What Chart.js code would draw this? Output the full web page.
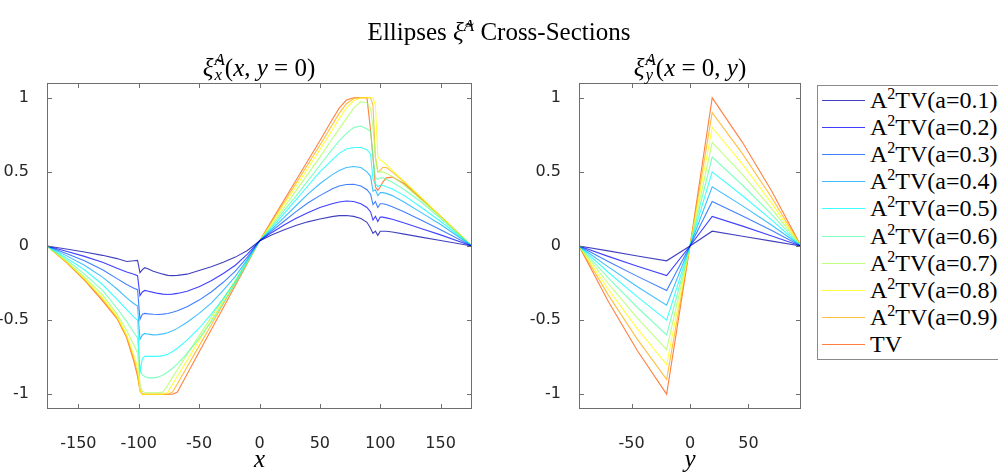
<!DOCTYPE html>
<html>
<head>
<meta charset="utf-8">
<script src="https://cdn.jsdelivr.net/npm/chart.js@4.4.1/dist/chart.umd.min.js"></script>
<style>
  html, body { margin: 0; padding: 0; background: #fff; }
  body { width: 998px; height: 476px; position: relative; overflow: hidden; }
  canvas { position: absolute; top: 0; }
  #c1 { left: 0; }
  #c2 { left: 500px; }
  .ttl { position: absolute; font-family: "Liberation Serif", serif; font-size: 25px; line-height: 25px;
         color: #000; white-space: nowrap; transform: translateX(-50%); }
  .ttl i { font-style: italic; }
  .ss { display: inline-flex; flex-direction: column; font-size: 17px; line-height: 15px;
        font-style: italic; vertical-align: 11px; margin-left: 1px; }
  #legend { position: absolute; left: 817px; top: 85px; width: 220px; height: 273px;
            border: 1px solid #8a8a8a; background: #fff; }
  .row { position: absolute; left: 0; height: 27px; width: 220px; }
  .swatch { position: absolute; left: 4px; top: 13px; width: 43px; height: 1px; }
  .lbl { position: absolute; left: 52px; top: 0; line-height: 27px; font-family: "Liberation Serif", serif;
         font-size: 24px; color: #000; white-space: nowrap; }
  .lbl sup { font-size: 16px; vertical-align: 9px; line-height: 0; }
</style>
</head>
<body>
<canvas id="c1" width="500" height="476"></canvas>
<canvas id="c2" width="498" height="476"></canvas>
<div class="ttl" style="left:499px; top:13px;">Ellipses <i>ξ̃</i><sup style="font-size:17px;font-style:italic;">A</sup> Cross-Sections</div>
<div class="ttl" style="left:259px; top:52px;"><i>ξ̃</i><span class="ss"><span>A</span><span>x</span></span>(<i>x</i>, <i>y</i> = 0)</div>
<div class="ttl" style="left:690px; top:52px;"><i>ξ̃</i><span class="ss"><span>A</span><span>y</span></span>(<i>x</i> = 0, <i>y</i>)</div>
<div id="legend"></div>
<script>
// x positions of the horizontal cross-section (left panel)
const xLeft = [-176, -160, -145, -130, -118, -110, -104, -101, -99, -97, -95, -92, -88, -84, -80, -76, -72, -68,
  -60, -50, -40, -30, -20, -10, 0, 10, 20, 30, 40, 50, 60, 66, 72, 78, 84, 89, 92, 94, 96, 98, 100, 102, 105,
  110, 120, 135, 150, 176];

const leftA01 = [0, -0.02, -0.04, -0.063, -0.085, -0.105, -0.1, -0.097, -0.18, -0.16, -0.146, -0.155, -0.17, -0.18, -0.19, -0.198, -0.2, -0.198, -0.19, -0.165, -0.14, -0.11, -0.075, -0.03,
  0.034, 0.075, 0.108, 0.138, 0.163, 0.182, 0.198, 0.205, 0.206, 0.2, 0.185, 0.16, 0.12, 0.085, 0.1, 0.072, 0.1, 0.1, 0.1, 0.094, 0.08, 0.058, 0.037, 0];
const leftA02 = [0, -0.035, -0.07, -0.11, -0.15, -0.175, -0.19, -0.2, -0.335, -0.31, -0.3, -0.305, -0.313, -0.32, -0.325, -0.327, -0.325, -0.32, -0.305, -0.275, -0.235, -0.185, -0.13, -0.055,
  0.034, 0.09, 0.14, 0.185, 0.225, 0.26, 0.285, 0.297, 0.304, 0.3, 0.285, 0.26, 0.23, 0.175, 0.2, 0.165, 0.195, 0.195, 0.19, 0.18, 0.155, 0.115, 0.075, 0];
const leftA03 = [0, -0.05, -0.1, -0.16, -0.22, -0.26, -0.285, -0.295, -0.495, -0.46, -0.455, -0.458, -0.461, -0.462, -0.46, -0.455, -0.447, -0.437, -0.41, -0.365, -0.31, -0.245, -0.17, -0.075,
  0.034, 0.1, 0.165, 0.23, 0.29, 0.34, 0.385, 0.405, 0.415, 0.417, 0.405, 0.38, 0.35, 0.28, 0.3, 0.26, 0.285, 0.285, 0.28, 0.265, 0.23, 0.17, 0.11, 0];
const leftA04 = [0, -0.065, -0.13, -0.21, -0.29, -0.35, -0.39, -0.405, -0.63, -0.6, -0.59, -0.595, -0.6, -0.598, -0.593, -0.585, -0.572, -0.556, -0.515, -0.455, -0.385, -0.3, -0.205, -0.09,
  0.034, 0.11, 0.19, 0.27, 0.35, 0.42, 0.48, 0.51, 0.53, 0.536, 0.53, 0.5, 0.47, 0.37, 0.38, 0.34, 0.36, 0.36, 0.355, 0.34, 0.295, 0.22, 0.145, 0];
const leftA05 = [0, -0.08, -0.16, -0.26, -0.36, -0.43, -0.48, -0.5, -0.85, -0.76, -0.745, -0.745, -0.745, -0.745, -0.74, -0.73, -0.712, -0.69, -0.635, -0.555, -0.46, -0.355, -0.24, -0.1,
  0.034, 0.12, 0.215, 0.31, 0.405, 0.5, 0.58, 0.625, 0.655, 0.665, 0.665, 0.65, 0.62, 0.45, 0.42, 0.4, 0.41, 0.41, 0.4, 0.385, 0.34, 0.255, 0.165, 0];
const leftA06 = [0, -0.09, -0.19, -0.3, -0.42, -0.51, -0.585, -0.62, -0.84, -0.87, -0.88, -0.89, -0.89, -0.885, -0.87, -0.85, -0.825, -0.795, -0.725, -0.625, -0.51, -0.385, -0.255, -0.11,
  0.034, 0.13, 0.235, 0.335, 0.44, 0.545, 0.65, 0.71, 0.76, 0.8, 0.81, 0.79, 0.775, 0.6, 0.46, 0.45, 0.46, 0.46, 0.45, 0.43, 0.38, 0.29, 0.185, 0];
const leftA07 = [0, -0.1, -0.21, -0.33, -0.46, -0.57, -0.67, -0.72, -0.93, -0.98, -0.99, -0.99, -0.99, -0.99, -0.985, -0.94, -0.885, -0.835, -0.73, -0.605, -0.48, -0.355, -0.23, -0.1,
  0.034, 0.14, 0.255, 0.37, 0.485, 0.6, 0.72, 0.79, 0.86, 0.93, 0.975, 0.965, 0.93, 0.8, 0.6, 0.5, 0.5, 0.5, 0.49, 0.47, 0.41, 0.305, 0.195, 0];
const leftA08 = [0, -0.105, -0.22, -0.35, -0.475, -0.6, -0.74, -0.82, -0.97, -1, -1, -1, -1, -1, -1, -0.987, -0.933, -0.879, -0.772, -0.637, -0.503, -0.369, -0.235, -0.105,
  0.034, 0.15, 0.275, 0.4, 0.525, 0.65, 0.78, 0.86, 0.93, 0.98, 1, 1, 1, 1, 0.95, 0.6, 0.58, 0.57, 0.55, 0.51, 0.434, 0.32, 0.2, 0];
const leftA09 = [0, -0.108, -0.225, -0.36, -0.485, -0.61, -0.76, -0.86, -0.98, -1, -1, -1, -1, -1, -1, -1, -0.986, -0.929, -0.816, -0.674, -0.533, -0.391, -0.249, -0.11,
  0.034, 0.16, 0.29, 0.42, 0.55, 0.68, 0.815, 0.895, 0.96, 0.995, 1, 1, 1, 0.95, 0.6, 0.5, 0.51, 0.53, 0.53, 0.5, 0.43, 0.315, 0.2, 0];
const leftTV = [0, -0.11, -0.23, -0.37, -0.49, -0.62, -0.78, -0.88, -0.97, -1, -1, -1, -1, -1, -1, -1, -1, -0.985, -0.865, -0.715, -0.565, -0.416, -0.266, -0.116,
  0.034, 0.17, 0.305, 0.44, 0.575, 0.71, 0.85, 0.93, 0.985, 1, 1, 1, 0.78, 0.6, 0.4, 0.375, 0.4, 0.43, 0.46, 0.465, 0.42, 0.31, 0.2, 0];

// y positions of the vertical cross-section (right panel)
const yRight = [-95, -70, -45, -20, 0, 19, 45, 70, 95];
const rightA01 = [0, -0.033, -0.067, -0.1, 0, 0.1, 0.066, 0.033, 0];
const rightA02 = [0, -0.07, -0.136, -0.2, 0, 0.2, 0.134, 0.068, 0];
const rightA03 = [0, -0.105, -0.205, -0.3, 0, 0.3, 0.202, 0.104, 0];
const rightA04 = [0, -0.141, -0.275, -0.4, 0, 0.4, 0.271, 0.14, 0];
const rightA05 = [0, -0.177, -0.343, -0.5, 0, 0.5, 0.339, 0.175, 0];
const rightA06 = [0, -0.215, -0.415, -0.6, 0, 0.6, 0.41, 0.212, 0];
const rightA07 = [0, -0.253, -0.487, -0.7, 0, 0.7, 0.481, 0.25, 0];
const rightA08 = [0, -0.292, -0.559, -0.8, 0, 0.8, 0.551, 0.288, 0];
const rightA09 = [0, -0.33, -0.63, -0.9, 0, 0.9, 0.622, 0.326, 0];
const rightTV = [0, -0.373, -0.707, -1, 0, 1, 0.698, 0.369, 0];

const seriesLabels = ['A²TV(a=0.1)', 'A²TV(a=0.2)', 'A²TV(a=0.3)', 'A²TV(a=0.4)', 'A²TV(a=0.5)',
  'A²TV(a=0.6)', 'A²TV(a=0.7)', 'A²TV(a=0.8)', 'A²TV(a=0.9)', 'TV'];
const seriesColors = ['rgba(0,0,170,0.75)', 'rgba(0,0,255,0.75)', 'rgba(0,85,255,0.75)', 'rgba(0,170,255,0.75)',
  'rgba(0,255,255,0.75)', 'rgba(85,255,170,0.75)', 'rgba(170,255,85,0.75)', 'rgba(255,255,0,0.75)',
  'rgba(255,170,0,0.75)', 'rgba(255,85,0,0.75)'];

const xTicksLeft = [-150, -100, -50, 0, 50, 100, 150];
const xTicksRight = [-50, 0, 50];
const yTicks = [-1, -0.5, 0, 0.5, 1];
const yTickLabels = ['-1', '-0.5', '0', '0.5', '1'];

const leftSeries = [leftA01, leftA02, leftA03, leftA04, leftA05, leftA06, leftA07, leftA08, leftA09, leftTV];
const rightSeries = [rightA01, rightA02, rightA03, rightA04, rightA05, rightA06, rightA07, rightA08, rightA09, rightTV];

const axisColor = '#6e6e6e';
const tickFont = { family: 'DejaVu Sans', size: 16 };

// box around the plot area with inward ticks on all four sides (MATLAB style)
const boxTicks = {
  id: 'boxTicks',
  afterDatasetsDraw(chart) {
    const { ctx, chartArea: a, scales: { x, y } } = chart;
    ctx.save();
    ctx.strokeStyle = axisColor;
    ctx.lineWidth = 1;
    ctx.strokeRect(a.left + 0.5, a.top + 0.5, a.right - a.left - 1, a.bottom - a.top - 1);
    ctx.beginPath();
    x.ticks.forEach(t => {
      const px = Math.round(x.getPixelForValue(t.value)) + 0.5;
      ctx.moveTo(px, a.bottom); ctx.lineTo(px, a.bottom - 5);
      ctx.moveTo(px, a.top); ctx.lineTo(px, a.top + 5);
    });
    y.ticks.forEach(t => {
      const py = Math.round(y.getPixelForValue(t.value)) + 0.5;
      ctx.moveTo(a.left, py); ctx.lineTo(a.left + 5, py);
      ctx.moveTo(a.right, py); ctx.lineTo(a.right - 5, py);
    });
    ctx.stroke();
    ctx.restore();
  }
};

function makeChart(id, xs, seriesList, xmin, xmax, xticks, xTitle, yAxisWidth, padRight) {
  const datasets = seriesList.map((ys, i) => ({
    label: seriesLabels[i],
    data: ys.map((v, j) => ({ x: xs[j], y: v })),
    borderColor: seriesColors[i],
    borderWidth: 1.1,
    pointRadius: 0,
    tension: 0,
    fill: false
  }));
  return new Chart(document.getElementById(id).getContext('2d'), {
    type: 'line',
    data: { datasets },
    plugins: [boxTicks],
    options: {
      responsive: false,
      animation: false,
      devicePixelRatio: 1,
      layout: { padding: { left: 0, top: 83, right: padRight, bottom: 0 } },
      plugins: { legend: { display: false }, tooltip: { enabled: false } },
      scales: {
        x: {
          type: 'linear',
          min: xmin,
          max: xmax,
          afterBuildTicks: s => { s.ticks = xticks.map(v => ({ value: v })); },
          afterFit: s => { s.height = 67; },
          grid: { display: false },
          border: { display: false },
          ticks: { font: tickFont, color: '#262626', padding: 17, maxRotation: 0,
                   callback: v => String(v) },
          title: { display: true, text: xTitle, color: '#000',
                   font: { family: 'Liberation Serif', size: 25, style: 'italic', lineHeight: 1.2 },
                   padding: { top: 0, bottom: 1 } }
        },
        y: {
          type: 'linear',
          min: -1.1,
          max: 1.1,
          afterBuildTicks: s => { s.ticks = yTicks.map(v => ({ value: v })); },
          afterFit: s => { s.width = yAxisWidth; },
          grid: { display: false },
          border: { display: false },
          ticks: { font: tickFont, color: '#262626', padding: 10,
                   callback: (v, i) => yTickLabels[i] }
        }
      }
    }
  });
}

makeChart('c1', xLeft, leftSeries, -176, 176, xTicksLeft, 'x', 47, 28);
makeChart('c2', yRight, rightSeries, -95, 95, xTicksRight, 'y', 79, 197);

// legend box built from the same labels / colours
const legend = document.getElementById('legend');
seriesLabels.forEach((name, i) => {
  const row = document.createElement('div');
  row.className = 'row';
  row.style.top = (Math.round(13.5 + 27.2 * i) - 13) + 'px';
  const sw = document.createElement('span');
  sw.className = 'swatch';
  sw.style.background = seriesColors[i];
  const lb = document.createElement('span');
  lb.className = 'lbl';
  const k = name.indexOf('²');
  if (k >= 0) {
    lb.appendChild(document.createTextNode(name.slice(0, k)));
    const sup = document.createElement('sup');
    sup.textContent = '2';
    lb.appendChild(sup);
    lb.appendChild(document.createTextNode(name.slice(k + 1)));
  } else {
    lb.textContent = name;
  }
  row.appendChild(sw);
  row.appendChild(lb);
  legend.appendChild(row);
});
</script>
</body>
</html>
